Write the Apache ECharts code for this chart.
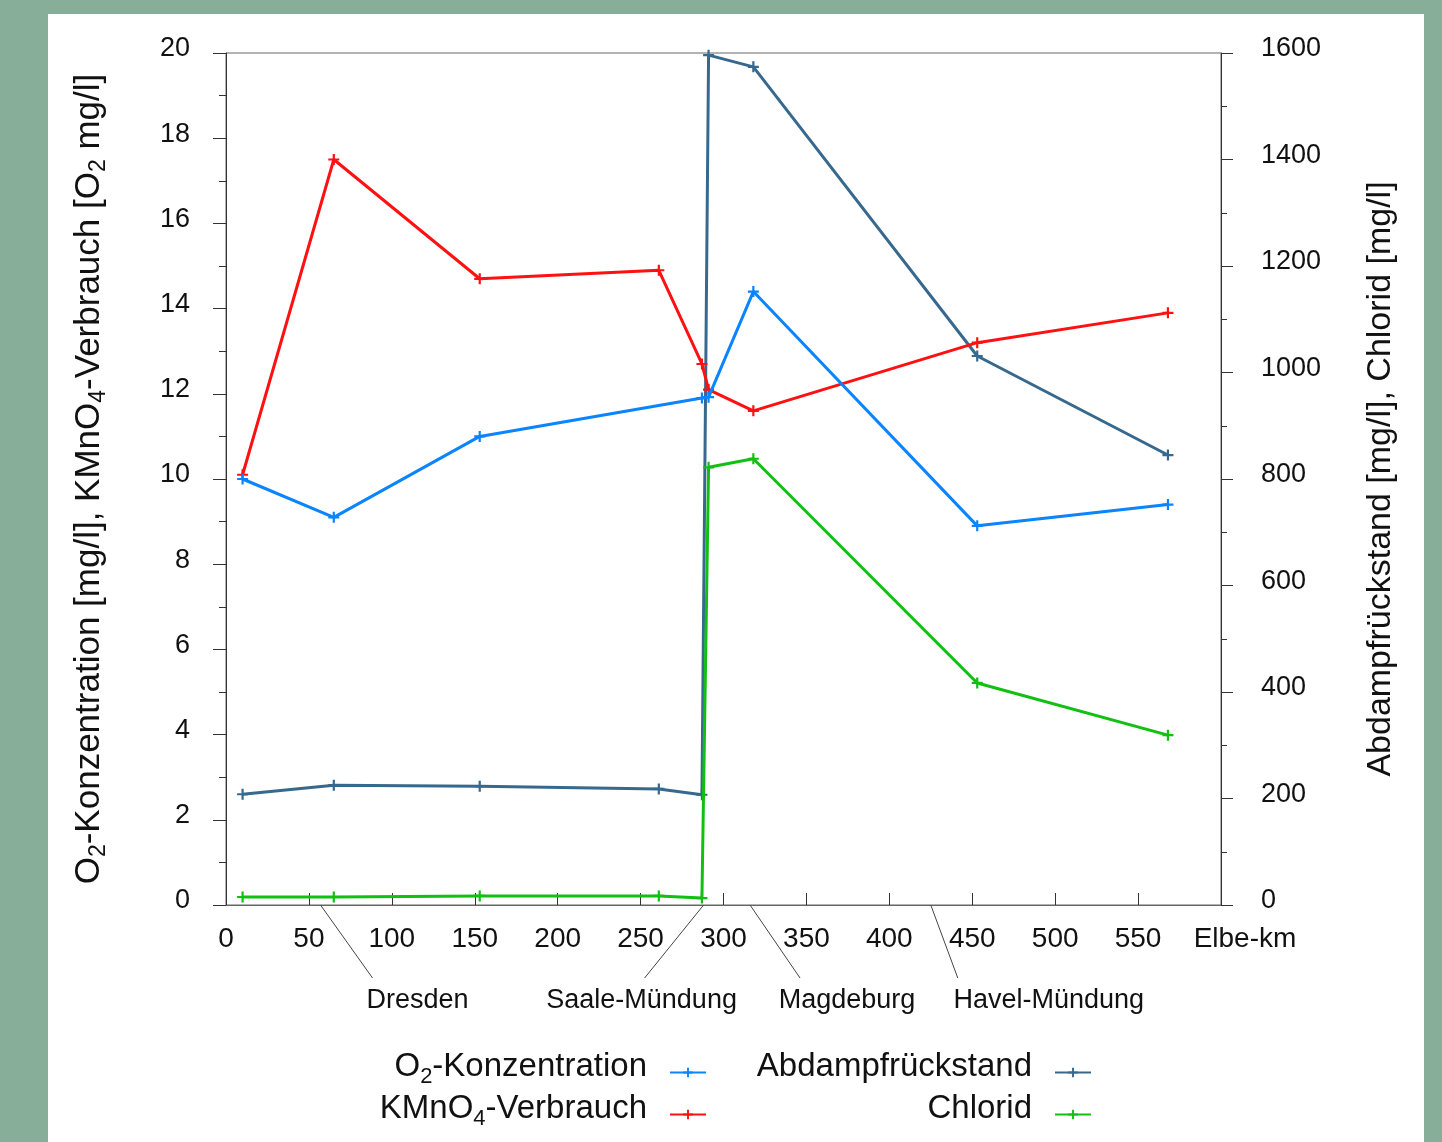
<!DOCTYPE html>
<html>
<head>
<meta charset="utf-8">
<script src="https://cdn.jsdelivr.net/npm/echarts@6/dist/echarts.min.js"></script>
<style>
html,body{margin:0;padding:0;background:#86AE99;}
#panel{position:absolute;left:48px;top:14px;width:1376px;height:1128px;background:#fff;}
#main{position:absolute;left:0;top:0;width:1442px;height:1142px;}
</style>
</head>
<body>
<div id="panel"></div>
<div id="main"></div>
<script>
// ---- data ----
const kmAll = [10, 65, 153, 261, 287, 291, 318, 453, 568];
const kmO2 = [10, 65, 153, 287, 291, 318, 453, 568];
const o2Konz = [10.0, 9.1, 11.0, 11.9, 11.92, 14.4, 8.9, 9.4];
const kmnoVerbrauch = [10.1, 17.5, 14.7, 14.9, 12.7, 12.1, 11.6, 13.2, 13.9];
const abdampf = [208, 225, 223, 218, 207, 1596, 1574, 1031, 845];
const chlorid = [15, 15, 17, 17, 13, 822, 838, 417, 319];
const annoNames = ['Dresden', 'Saale-Mündung', 'Magdeburg', 'Havel-Mündung'];
const annoKm = [57, 288, 316, 425];
const seriesNames = ['O2-Konzentration', 'KMnO4-Verbrauch', 'Abdampfrückstand', 'Chlorid'];

// ---- layout helpers (not data) ----
const annoLineDx = [52, -59, 50, 27];
const annoTextDx = [45, -3, 47, 91];
const FONT = 'Liberation Sans, Arial, sans-serif';
const plusSymbol = 'path://M4,0h2v4h4v2h-4v4h-2v-4h-4v-2h4z';

const pair = (xs, ys) => xs.map((x, i) => [x, ys[i]]);

const chart = echarts.init(document.getElementById('main'), null, {renderer: 'canvas'});

const richSub = {
  n: {fontSize: 33, fontFamily: FONT, color: '#111', lineHeight: 42},
  s: {fontSize: 22, fontFamily: FONT, color: '#111', lineHeight: 31, verticalAlign: 'bottom'}
};
const legendLabel = {
  'O2-Konzentration': '{n|O}{s|2}{n|-Konzentration}',
  'KMnO4-Verbrauch': '{n|KMnO}{s|4}{n|-Verbrauch}',
  'Abdampfrückstand': '{n|Abdampfrückstand}',
  'Chlorid': '{n|Chlorid}'
};
function mkLegend(name, right, top) {
  return {
    data: [name], right: right, top: top, orient: 'vertical', align: 'right',
    itemWidth: 36, itemHeight: 12, selectedMode: false,
    formatter: n => legendLabel[n],
    textStyle: {rich: richSub, padding: [0, 18, 12, 0]}
  };
}

function mkLine(name, data, color, yIdx, z) {
  return {
    name: name, type: 'line', yAxisIndex: yIdx, data: data,
    symbol: plusSymbol, symbolSize: 11, showSymbol: true,
    lineStyle: {color: color, width: 3}, itemStyle: {color: color},
    emphasis: {disabled: true}, z: z, animation: false
  };
}

const yLabel = {fontSize: 27, fontFamily: FONT, color: '#111', verticalAlign: 'bottom', lineHeight: 8, formatter: v => String(v)};

const option = {
  animation: false,
  grid: {left: 226, right: 221, top: 53, bottom: 237, show: true, borderColor: '#666', borderWidth: 1, backgroundColor: 'transparent'},
  legend: [
    mkLegend(seriesNames[0], 730, 1045),
    mkLegend(seriesNames[1], 730, 1087),
    mkLegend(seriesNames[2], 345, 1045),
    mkLegend(seriesNames[3], 345, 1087)
  ],
  xAxis: {
    type: 'value', min: 0, max: 600, interval: 50,
    axisLine: {show: true, lineStyle: {color: '#666', width: 1}},
    axisTick: {show: true, inside: true, length: 12, lineStyle: {color: '#333'}},
    splitLine: {show: false},
    axisLabel: {
      fontSize: 28, fontFamily: FONT, color: '#111', margin: 20,
      formatter: v => v === 600 ? '{e|Elbe-km}' : String(v),
      rich: {e: {fontSize: 28, fontFamily: FONT, color: '#111', padding: [0, 0, 0, 48]}}
    }
  },
  yAxis: [
    {
      type: 'value', min: 0, max: 20, interval: 2, position: 'left',
      axisLine: {show: true, lineStyle: {color: '#333', width: 1}},
      axisTick: {show: true, inside: false, length: 13, lineStyle: {color: '#333'}},
      minorTick: {show: true, splitNumber: 2, length: 7, lineStyle: {color: '#333'}},
      splitLine: {show: false},
      axisLabel: Object.assign({margin: 36}, yLabel),
      name: '{n|O}{s|2}{n|-Konzentration [mg/l], KMnO}{s|4}{n|-Verbrauch [O}{s|2}{n| mg/l]}',
      nameLocation: 'middle', nameRotate: 90, nameGap: 116,
      nameTextStyle: {rich: {
        n: {fontSize: 35, fontFamily: FONT, color: '#111', lineHeight: 42},
        s: {fontSize: 23, fontFamily: FONT, color: '#111', lineHeight: 31, verticalAlign: 'bottom'}
      }}
    },
    {
      type: 'value', min: 0, max: 1600, interval: 200, position: 'right',
      axisLine: {show: true, lineStyle: {color: '#333', width: 1}},
      axisTick: {show: true, inside: false, length: 12, lineStyle: {color: '#333'}},
      minorTick: {show: true, splitNumber: 2, length: 6, lineStyle: {color: '#333'}},
      splitLine: {show: false},
      axisLabel: Object.assign({margin: 40}, yLabel),
      name: 'Abdampfrückstand [mg/l], Chlorid [mg/l]',
      nameLocation: 'middle', nameRotate: 90, nameGap: 143,
      nameTextStyle: {fontSize: 34, fontFamily: FONT, color: '#111'}
    }
  ],
  series: [
    mkLine(seriesNames[2], pair(kmAll, abdampf), '#36698D', 1, 2),
    mkLine(seriesNames[3], pair(kmAll, chlorid), '#11C011', 1, 3),
    mkLine(seriesNames[1], pair(kmAll, kmnoVerbrauch), '#FF1111', 0, 4),
    mkLine(seriesNames[0], pair(kmO2, o2Konz), '#0A84FF', 0, 5),
    {
      type: 'custom', name: 'anno', clip: false, silent: true, xAxisIndex: 0, yAxisIndex: 0,
      data: annoKm.map((k, i) => [k, 0, i]),
      encode: {x: 0, y: 1},
      renderItem: function (params, api) {
        const i = api.value(2);
        const p = api.coord([api.value(0), 0]);
        const ex = p[0] + annoLineDx[i], ey = p[1] + 73;
        return {
          type: 'group',
          children: [
            {type: 'line', shape: {x1: p[0], y1: p[1], x2: ex, y2: ey}, style: {stroke: '#444', lineWidth: 1}},
            {type: 'text', style: {text: annoNames[i], x: ex + annoTextDx[i], y: ey + 23, align: 'center', verticalAlign: 'middle', fontSize: 27, fontFamily: FONT, fill: '#111'}}
          ]
        };
      },
      z: 1, animation: false
    }
  ]
};
chart.setOption(option);
</script>
</body>
</html>
